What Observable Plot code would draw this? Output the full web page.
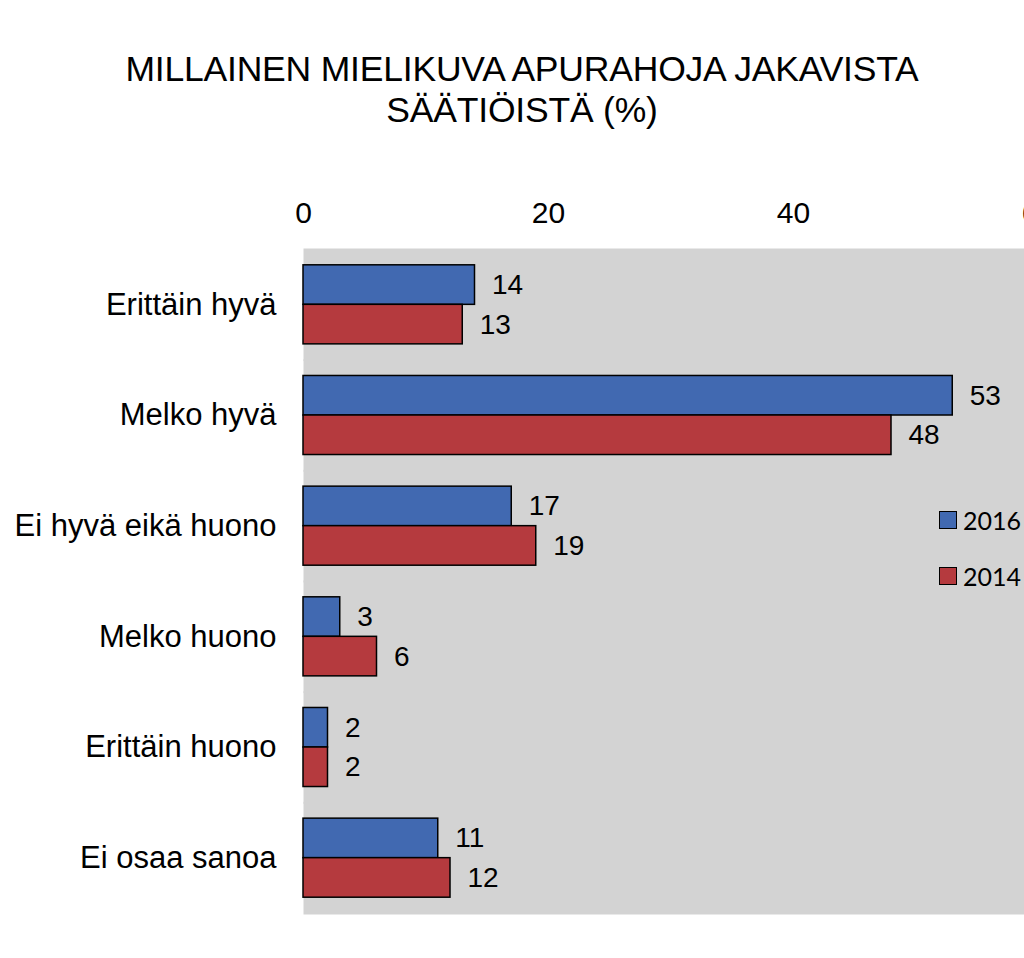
<!DOCTYPE html>
<html>
<head>
<meta charset="utf-8">
<script src="https://cdn.jsdelivr.net/npm/d3@7"></script>
<script src="https://cdn.jsdelivr.net/npm/@observablehq/plot@0.6"></script>
<style>
  html, body { margin: 0; padding: 0; background: white; overflow: hidden; }
  body { position: relative; width: 1024px; height: 958px; font-family: "Liberation Sans", Arial, sans-serif; }
  #title { box-sizing: border-box; height: 150px; padding-top: 49px; padding-left: 20px; text-align: center;
           font-size: 35.5px; line-height: 41px; color: #000; letter-spacing: -0.2px; white-space: nowrap; }
  #chart svg { display: block; }
  .legend { position: absolute; left: 939px; font-family: Lato, "Open Sans", sans-serif; font-size: 25px; color: #000; display: flex; align-items: center; }
  .legend .sw { width: 16px; height: 16px; border: 1px solid #000; margin-right: 6px; }
</style>
</head>
<body>
<div id="title">MILLAINEN MIELIKUVA APURAHOJA JAKAVISTA<br>SÄÄTIÖISTÄ (%)</div>
<div id="chart"></div>
<div id="legend"></div>
<script>
const categories = ["Erittäin hyvä", "Melko hyvä", "Ei hyvä eikä huono", "Melko huono", "Erittäin huono", "Ei osaa sanoa"];
const series = ["2016", "2014"];
const values2016 = [14, 53, 17, 3, 2, 11];
const values2014 = [13, 48, 19, 6, 2, 12];
const xTicks = [0, 20, 40, 60];
const colors = ["#4169b1", "#b53a3e"];

const data = [];
categories.forEach((c, i) => {
  data.push({category: c, series: "2016", value: values2016[i]});
  data.push({category: c, series: "2014", value: values2014[i]});
});

const chart = Plot.plot({
  width: 1024,
  height: 808,
  marginTop: 99,
  marginBottom: 45,
  marginLeft: 303,
  marginRight: -14,
  style: {fontFamily: "'Liberation Sans', Arial, sans-serif", background: "white", color: "black"},
  x: {domain: [0, 60], axis: null},
  y: {domain: series, axis: null, paddingInner: 0, paddingOuter: 0.4, round: false},
  fy: {domain: categories, padding: 0, label: null, round: false},
  color: {domain: series, range: colors},
  marks: [
    Plot.frame({fill: "#d3d3d3", insetTop: -1, insetBottom: -1}),
    Plot.axisX({ticks: xTicks, anchor: "top", tickSize: 0, tickPadding: 27, fontSize: 30, label: null}),
    Plot.axisFy({anchor: "left", tickSize: 0, tickPadding: 27, fontSize: 31, label: null}),
    Plot.barX(data, {fy: "category", y: "series", x: "value", fill: "series", stroke: "black", strokeWidth: 1.5}),
    Plot.text(data, {fy: "category", y: "series", x: "value", text: d => String(d.value), textAnchor: "start", dx: 17, fontSize: 28, fill: "black"})
  ]
});
document.getElementById("chart").appendChild(chart);

const legendTops = [505, 561];
series.forEach((s, i) => {
  const el = document.createElement("div");
  el.className = "legend";
  el.style.top = legendTops[i] + "px";
  el.innerHTML = `<span class="sw" style="background:${colors[i]}"></span><span>${s}</span>`;
  document.body.appendChild(el);
});
</script>
</body>
</html>
